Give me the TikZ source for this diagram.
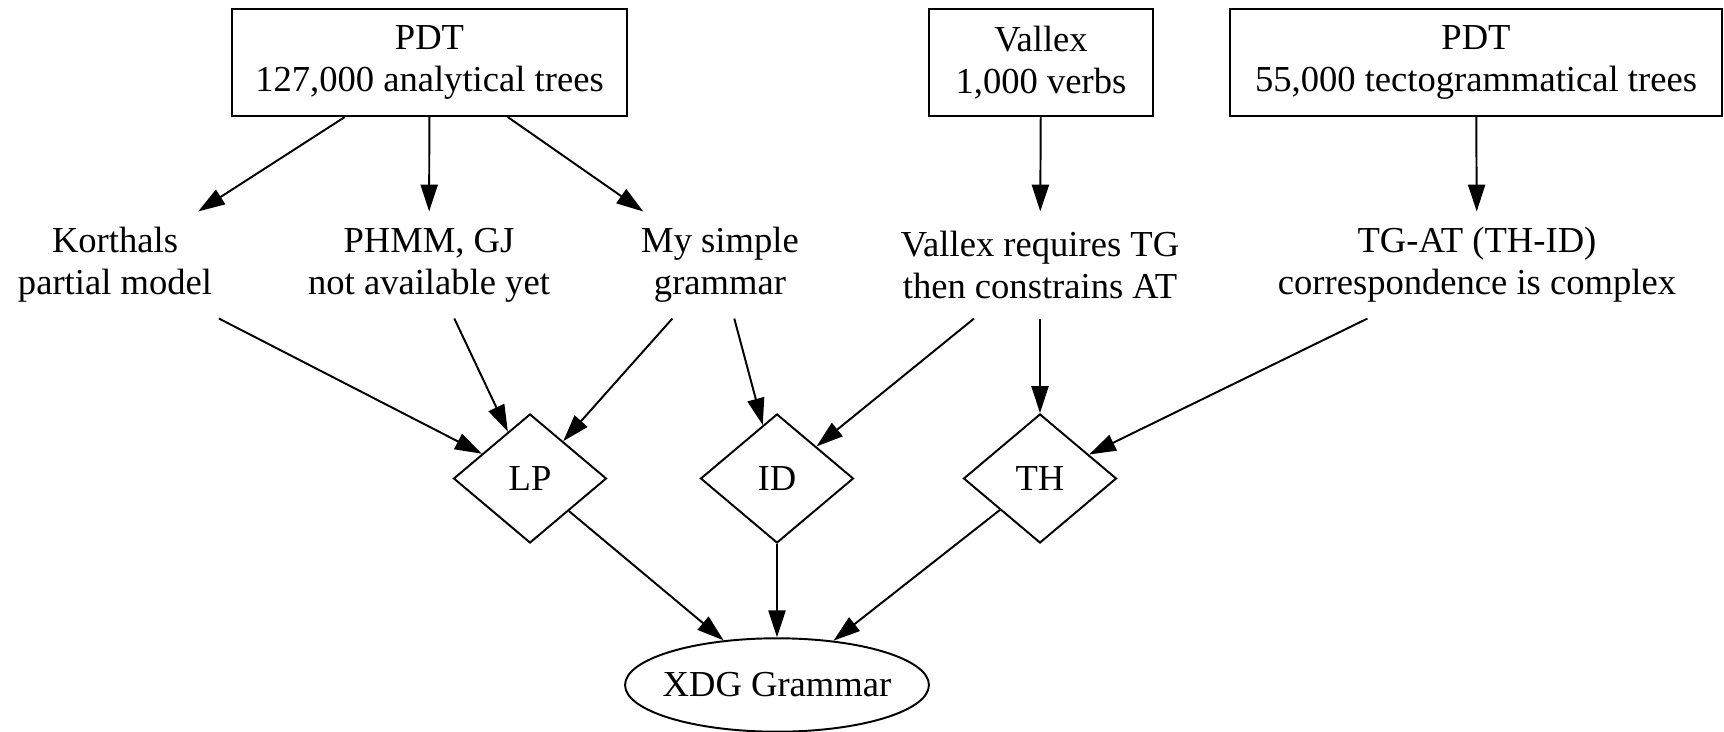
\documentclass[tikz,border=0pt]{standalone}
\usepackage{fontspec}
\setmainfont{Liberation Serif}
\usetikzlibrary{shapes.geometric,arrows.meta}

\begin{document}
\begin{tikzpicture}[x=0.41pt,y=-0.41pt,
	font=\fontsize{15pt}{17.2pt}\selectfont,
	every node/.style={align=center,inner sep=0pt},
	corpus/.style={draw,line width=0.8pt,rectangle,minimum height=43.9pt},
	note/.style={rectangle,minimum height=43.5pt,inner xsep=6pt},
	dim/.style={draw,line width=0.8pt,diamond,minimum width=62.7pt,minimum height=52.9pt},
	goal/.style={draw,line width=0.8pt,ellipse,minimum width=124.6pt,minimum height=38.3pt},
	edge/.style={-{Triangle[length=11pt,width=7pt]},line width=0.8pt}]
			\useasboundingbox (0,0) rectangle (1724,732);
			
			% Fuentes
			\node[corpus,minimum width=162pt] (pdta) at (429.5,62.5) {PDT\\127,000 analytical trees};
			\node[corpus,minimum width=91.8pt] (vallex) at (1041,62.5) {Vallex\\1,000 verbs};
			\node[corpus,minimum width=201.7pt] (pdtb) at (1476,62.5) {PDT\\55,000 tectogrammatical trees};
			
			% Notas
			\node[note] (korthals) at (115,265) {Korthals\\partial model};
			\node[note] (phmm) at (429,265) {PHMM, GJ\\not available yet};
			\node[note] (simple) at (720,265) {My simple\\grammar};
			\node[note] (vreq) at (1040,265) {Vallex requires TG\\then constrains AT};
			\node[note] (tgat) at (1477,265) {TG-AT (TH-ID)\\correspondence is complex};
			
			% Dimensiones
			\node[dim] (lp) at (530,478.5) {LP};
			\node[dim] (id) at (777,478.5) {ID};
			\node[dim] (th) at (1040,478.5) {TH};
			
			% Gramatica
			\node[goal] (xdg) at (777,685) {\makebox[80pt]{XDG Grammar}};
			
			% Aristas
			\draw[edge] (pdta) -- (korthals);
			\draw[edge] (pdta) -- (phmm);
			\draw[edge] (pdta) -- (simple);
			\draw[edge] (vallex) -- (vreq);
			\draw[edge] (pdtb) -- (tgat);
			\draw[edge] (korthals) -- (lp);
			\draw[edge] (phmm) -- (lp);
			\draw[edge] (simple) -- (lp);
			\draw[edge] (simple) -- (id);
			\draw[edge] (vreq) -- (id);
			\draw[edge] (vreq) -- (th);
			\draw[edge] (tgat) -- (th);
			\draw[edge] (lp) -- (xdg);
			\draw[edge] (id) -- (xdg);
			\draw[edge] (th) -- (xdg);
		\end{tikzpicture}
\end{document}
